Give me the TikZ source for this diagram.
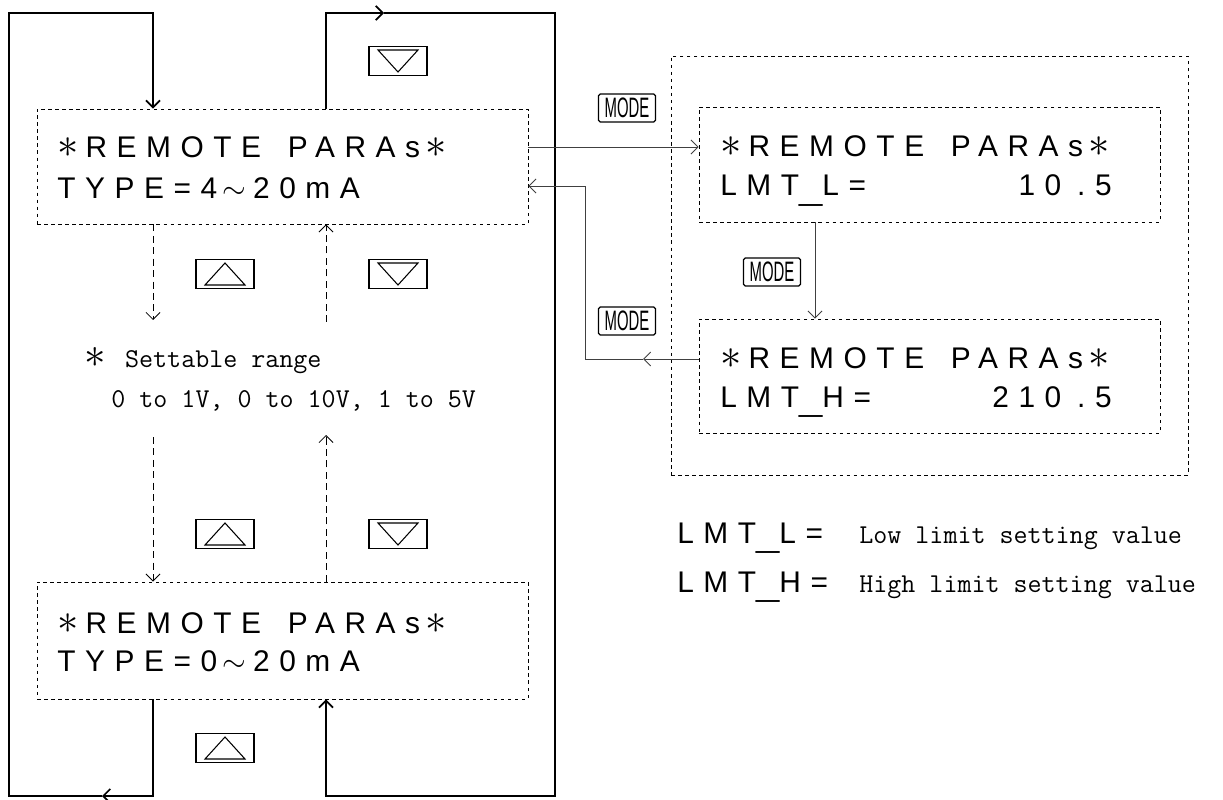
\documentclass[tikz,border=0pt]{standalone}
\usepackage{fontspec}
\usepackage{graphicx}
\usetikzlibrary{arrows.meta,fit}
\newfontfamily\lcdfont[LetterSpace=32]{Liberation Sans}
\newfontfamily\keyfont{Liberation Sans}
\newcommand{\lcdast}{\scalebox{1.4}{$\ast$}}
\newcommand{\lcdbar}{\raisebox{-2.5pt}{\scalebox{1.4}[1]{\_}}}
\newcommand{\lcdhead}{\lcdast\kern4pt REMOTE\kern5pt\ PARAs\kern3pt\lcdast}

\begin{document}
\begin{tikzpicture}[x=0.02cm, y=-0.02cm, >={Straight Barb[length=4pt,width=8pt]},
		loopline/.style={line width=1pt},
		link/.style={line width=0.5pt, draw=black!75},
		dlink/.style={line width=0.5pt, dash pattern=on 4pt off 2.5pt},
		disp/.style={draw, line width=0.5pt, dash pattern=on 2pt off 2pt, inner sep=0pt},
		lcd/.style={font=\lcdfont\fontsize{17}{20}\selectfont, inner sep=0pt, anchor=base west},
		arrowkey/.style={draw, line width=0.6pt, minimum width=1.16cm, minimum height=0.58cm, inner sep=0pt},
		modekey/.style={draw, line width=0.7pt, rounded corners=1pt, minimum width=1.14cm, minimum height=0.56cm, inner sep=0pt, font=\keyfont\fontsize{16}{16}\selectfont},
		note/.style={font=\ttfamily\fontsize{15.5}{18}\selectfont, inner sep=0pt, anchor=base west}]
	\useasboundingbox (0,0) rectangle (1223,800);

	% displays on the left
	\node[disp, fit={(37,109)(528,224)}] (rp1) {};
	\node[lcd] (rp1a) at (57,158) {\lcdhead};
	\node[lcd] (rp1b) at (57,199) {TYPE=4\kern3pt$\sim$\kern4pt20mA};
	\node[disp, fit={(37,582)(528,699)}] (rp2) {};
	\node[lcd] (rp2a) at (57,633) {\lcdhead};
	\node[lcd] (rp2b) at (57,671) {TYPE=0\kern3pt$\sim$\kern4pt20mA};

	% limit settings on the right
	\node[disp, fit={(671,56)(1188,475)}] (lmt) {};
	\node[disp, fit={(699,107)(1160,222)}] (lmtl) {};
	\node[lcd] (lmtla) at (720,157) {\lcdhead};
	\node[lcd] (lmtlb) at (720,196) {LMT\lcdbar L=};
	\node[lcd, anchor=base east] (lmtlv) at (1112,196) {10\kern9pt.5};
	\node[disp, fit={(699,319)(1160,433)}] (lmth) {};
	\node[lcd] (lmtha) at (720,368) {\lcdhead};
	\node[lcd] (lmthb) at (720,407) {LMT\lcdbar H=};
	\node[lcd, anchor=base east] (lmthv) at (1112,407) {210\kern9pt.5};

	% range note
	\node[note] (rng) at (84,367) {\scalebox{1.7}{$\ast$}\kern3pt\ Settable range};
	\node[note] (rngv) at (111,407) {0 to 1V, 0 to 10V, 1 to 5V};

	% legend
	\node[lcd] (lgl) at (677,543) {LMT\lcdbar L=};
	\node[note] (lglt) at (859,543) {Low limit setting value};
	\node[lcd] (lgh) at (677,592) {LMT\lcdbar H=};
	\node[note] (lght) at (859,592) {High limit setting value};

	% keys
	\foreach \n/\x/\y in {up1/225/274, up2/225/534, up3/225/748} {
		\node[arrowkey] (\n) at (\x,\y) {};
		\draw[line width=0.6pt] (\n.center) ++(-20,11) -- ++(40,0) -- ++(-20,-22) -- cycle;
	}
	\foreach \n/\x/\y in {dn0/398/61, dn1/398/274, dn2/398/534} {
		\node[arrowkey] (\n) at (\x,\y) {};
		\draw[line width=0.6pt] (\n.center) ++(-20,-11) -- ++(40,0) -- ++(-20,22) -- cycle;
	}
	\node[modekey] (m1) at (627,108) {\scalebox{0.53}[1]{MODE}};
	\node[modekey] (m2) at (772,272) {\scalebox{0.53}[1]{MODE}};
	\node[modekey] (m3) at (627,321) {\scalebox{0.53}[1]{MODE}};

	% outer loops
	\draw[loopline,->] (153,0 |- rp2.south) -- (153,796) -- (102,796);
	\draw[loopline,->] (102,796) -- (9,796) -- (9,13) -- (153,13) -- (153,0 |- rp1.north);
	\draw[loopline,->] (326,0 |- rp1.north) -- (326,13) -- (384,13);
	\draw[loopline,->] (384,13) -- (555,13) -- (555,796) -- (326,796) -- (326,0 |- rp2.south);

	% dashed steps
	\coordinate (s1) at (153,320);
	\coordinate (s2) at (153,437);
	\coordinate (s3) at (326,322);
	\coordinate (s4) at (326,435);
	\draw[dlink,->] (153,0 |- rp1.south) -- (s1);
	\draw[dlink,->] (s2) -- (153,0 |- rp2.north);
	\draw[dlink,->] (s3) -- (326,0 |- rp1.south);
	\draw[dlink,->] (326,0 |- rp2.north) -- (s4);

	% mode links
	\draw[link,->] (rp1.east |- 0,147) -- (lmtl.west |- 0,147);
	\draw[link,->] (815,0 |- lmtl.south) -- (815,0 |- lmth.north);
	\coordinate (r1) at (643,359);
	\draw[link,->] (lmth.west |- r1) -- (r1);
	\draw[link,->] (r1) -- (585,359) -- (585,186) -- (rp1.east |- 0,186);
\end{tikzpicture}
\end{document}
